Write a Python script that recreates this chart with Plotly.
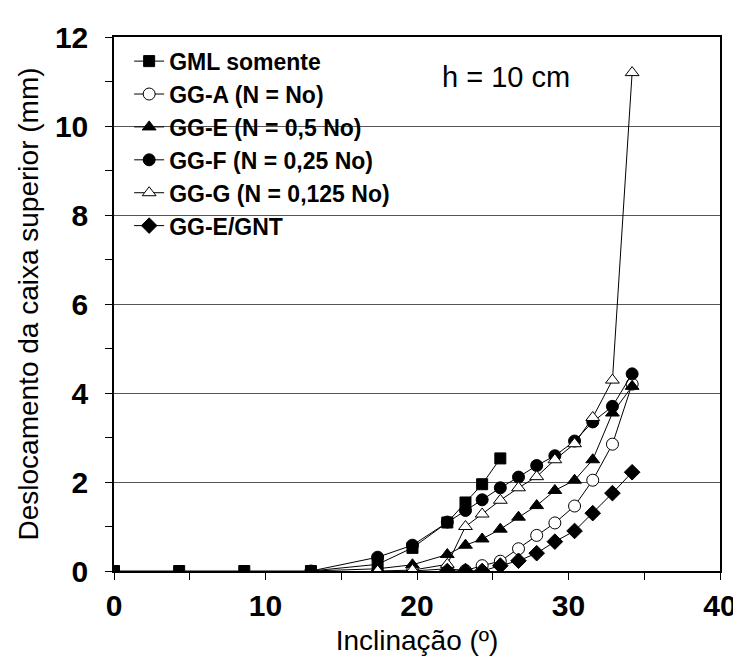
import plotly.graph_objects as go

# ---- data ----
x_gml = [0, 4.3, 8.6, 13.0, 17.4, 19.7, 22.0, 23.2, 24.3, 25.5]
y_gml = [0, 0, 0, 0, 0.15, 0.52, 1.09, 1.54, 1.95, 2.53]

x_gga = [19.7, 22.0, 23.2, 24.3, 25.5, 26.7, 27.9, 29.1, 30.4, 31.6, 32.9, 34.2]
y_gga = [0, 0.05, 0.01, 0.12, 0.22, 0.50, 0.80, 1.08, 1.46, 2.04, 2.85, 4.20]

x_gge = [13.0, 17.4, 19.7, 22.0, 23.2, 24.3, 25.5, 26.7, 27.9, 29.1, 30.4, 31.6, 32.9, 34.2]
y_gge = [0, 0.05, 0.14, 0.37, 0.58, 0.72, 0.94, 1.21, 1.47, 1.81, 2.04, 2.50, 3.55, 4.15]

x_ggf = [13.0, 17.4, 19.7, 22.0, 23.2, 24.3, 25.5, 26.7, 27.9, 29.1, 30.4, 31.6, 32.9, 34.2]
y_ggf = [0, 0.31, 0.58, 1.10, 1.36, 1.60, 1.87, 2.11, 2.37, 2.59, 2.92, 3.35, 3.70, 4.43]

x_ggg = [17.4, 19.7, 22.0, 23.2, 24.3, 25.5, 26.7, 27.9, 29.1, 30.4, 31.6, 32.9, 34.2]
y_ggg = [0, 0.02, 0.15, 1.00, 1.28, 1.59, 1.87, 2.12, 2.50, 2.86, 3.45, 4.29, 11.2]

x_gnt = [22.0, 23.2, 24.3, 25.5, 26.7, 27.9, 29.1, 30.4, 31.6, 32.9, 34.2]
y_gnt = [0, 0, 0, 0.12, 0.23, 0.40, 0.66, 0.90, 1.30, 1.75, 2.22]

names = ["GML somente", "GG-A (N = No)", "GG-E (N = 0,5 No)",
         "GG-F (N = 0,25 No)", "GG-G (N = 0,125 No)", "GG-E/GNT"]
xs = [x_gml, x_gga, x_gge, x_ggf, x_ggg, x_gnt]
ys = [y_gml, y_gga, y_gge, y_ggf, y_ggg, y_gnt]
symbols = ["square", "circle-open", "triangle-up", "circle", "triangle-up-open", "diamond"]
sizes = [11, 12, 12, 12, 12, 12]

x_ticks = [0, 10, 20, 30, 40]
y_ticks = [0, 2, 4, 6, 8, 10, 12]

FONT = "Liberation Sans, Arial, Helvetica, sans-serif"

fig = go.Figure()
for n, x, y, s, sz in zip(names, xs, ys, symbols, sizes):
    fill = "white" if s.endswith("open") else "black"
    sym = s.replace("-open", "")
    fig.add_trace(go.Scatter(
        x=x, y=y, name=n, mode="lines+markers",
        line=dict(color="black", width=1),
        marker=dict(symbol=sym, size=sz, color=fill,
                    line=dict(color="black", width=1)),
    ))

fig.add_annotation(x=25.9, y=11.1, text="h = 10 cm", showarrow=False,
                   font=dict(family=FONT, size=29, color="black"))

fig.update_layout(
    width=741, height=661,
    margin=dict(l=106, r=17, t=23, b=98),
    paper_bgcolor="white", plot_bgcolor="white",
    font=dict(family=FONT, color="black"),
    showlegend=True,
    legend=dict(x=0.025, y=0.995, xanchor="left", yanchor="top",
                bgcolor="rgba(0,0,0,0)",
                font=dict(family=FONT, size=23, color="black", weight="bold"),
                tracegroupgap=0, itemwidth=30),
    xaxis=dict(range=[0, 40], tickvals=x_ticks, ticks="outside", ticklen=7,
               tickcolor="black", showgrid=False, zeroline=False,
               showline=True, linecolor="black", linewidth=1.5, mirror=True,
               tickfont=dict(family=FONT, size=30, color="black", weight="bold"),
               minor=dict(dtick=5, ticks="outside", ticklen=7, tickcolor="black", showgrid=False),
               title=dict(text="Inclinação (º)", standoff=10,
                          font=dict(family=FONT, size=28, color="black"))),
    yaxis=dict(range=[0, 12], tickvals=y_ticks, ticks="outside", ticklen=7,
               tickcolor="black", showgrid=True, gridcolor="#555555", gridwidth=1,
               zeroline=False, showline=True, linecolor="black", linewidth=1.5, mirror=True,
               ticklabelstandoff=11,
               tickfont=dict(family=FONT, size=30, color="black", weight="bold"),
               minor=dict(dtick=1, ticks="outside", ticklen=7, tickcolor="black", showgrid=False),
               title=dict(text="Deslocamento da caixa superior (mm)", standoff=8,
                          font=dict(family=FONT, size=28, color="black"))),
)

fig.write_html("out.html")
